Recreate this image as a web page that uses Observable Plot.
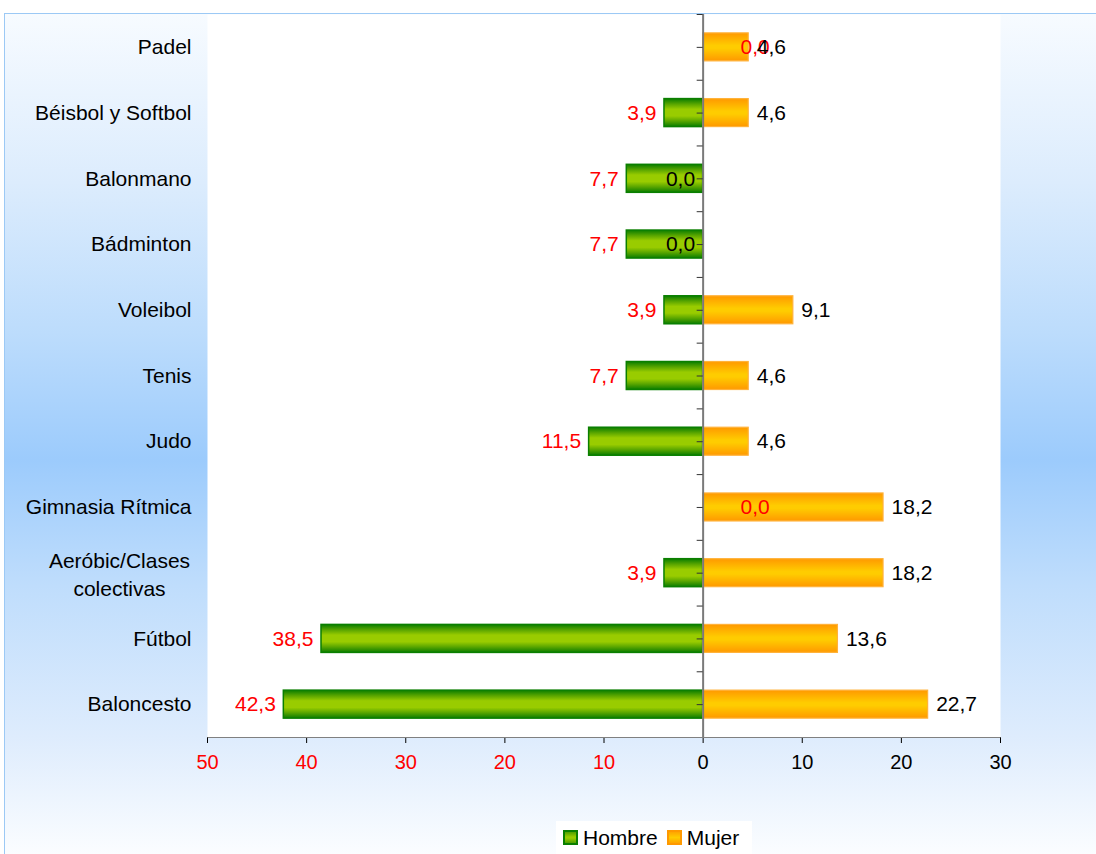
<!DOCTYPE html>
<html>
<head>
<meta charset="utf-8">
<script src="https://cdn.jsdelivr.net/npm/d3@7"></script>
<script src="https://cdn.jsdelivr.net/npm/@observablehq/plot@0.6"></script>
<style>
html, body { margin: 0; padding: 0; background: #fff; }
body { width: 1096px; height: 854px; overflow: hidden; position: relative; font-family: "Liberation Sans", Arial, sans-serif; }
#bg { position: absolute; left: 4px; top: 13px; width: 1092px; height: 841px;
  border-top: 1px solid #9cc9f5; border-left: 1px solid #9cc9f5;
  background: linear-gradient(to bottom, #f7fbff 0%, #dcecfd 20%, #bcdcfc 38%, #9ccbfc 53%, #bfddfc 68%, #deecfd 86%, #fbfdff 100%); }
#chart { position: absolute; left: 0; top: 0; }
#legend { position: absolute; left: 556px; top: 821px; width: 196px; height: 33px; background: #fff;
  display: flex; align-items: center; font-size: 21px; color: #000; box-sizing: border-box; padding-left: 7px; }
.sw { display: inline-block; width: 11px; height: 11px; margin-right: 5px; }
.sw.g { border: 2px solid #0a7f00; background: linear-gradient(to bottom, #4fa000, #99cc00 45%, #99cc00 55%, #4fa000); }
.sw.o { border: 2px solid #ff9900; background: linear-gradient(to bottom, #ffa500, #ffcc00 50%, #ffa500); margin-left: 9px; }
</style>
</head>
<body>
<svg width="0" height="0" style="position:absolute">
  <defs>
    <linearGradient id="gH" x1="0" y1="0" x2="0" y2="1">
      <stop offset="0" stop-color="#0a7d00"/>
      <stop offset="0.2" stop-color="#5aa600"/>
      <stop offset="0.38" stop-color="#99cc00"/>
      <stop offset="0.62" stop-color="#99cc00"/>
      <stop offset="0.8" stop-color="#5aa600"/>
      <stop offset="1" stop-color="#0a7d00"/>
    </linearGradient>
    <linearGradient id="gM" x1="0" y1="0" x2="0" y2="1">
      <stop offset="0" stop-color="#ff9900"/>
      <stop offset="0.45" stop-color="#ffcc00"/>
      <stop offset="0.55" stop-color="#ffcc00"/>
      <stop offset="1" stop-color="#ff9900"/>
    </linearGradient>
  </defs>
</svg>
<div id="bg"></div>
<div id="chart"></div>
<div id="legend"><span class="sw g"></span>Hombre<span class="sw o"></span>Mujer</div>
<script>
const sports = ["Padel", "Béisbol y Softbol", "Balonmano", "Bádminton", "Voleibol", "Tenis", "Judo", "Gimnasia Rítmica", "Aeróbic/Clases\ncolectivas", "Fútbol", "Baloncesto"];
const hombre = [0.0, 3.9, 7.7, 7.7, 3.9, 7.7, 11.5, 0.0, 3.9, 38.5, 42.3];
const mujer = [4.6, 4.6, 0.0, 0.0, 9.1, 4.6, 4.6, 18.2, 18.2, 13.6, 22.7];
const xTicks = [-50, -40, -30, -20, -10, 0, 10, 20, 30];

const fmt = v => v.toFixed(1).replace(".", ",");
const hRows = sports.map((s, i) => ({sport: s, v: hombre[i]}));
const mRows = sports.map((s, i) => ({sport: s, v: mujer[i]}));
const font = "Liberation Sans, Arial, sans-serif";

const plot = Plot.plot({
  width: 1096,
  height: 820,
  marginLeft: 207,
  marginRight: 96,
  marginTop: 14,
  marginBottom: 83,
  style: {background: "transparent", fontFamily: font, fontSize: "21px", color: "#000", overflow: "visible"},
  x: {domain: [-50, 30], ticks: xTicks, tickSize: 6, tickFormat: () => "", line: true, label: null},
  y: {domain: sports, axis: null, paddingInner: 0.574, paddingOuter: 0.287, round: false},
  marks: [
    Plot.frame({fill: "white", stroke: "none"}),
    Plot.barX(hRows.filter(d => d.v > 0), {y: "sport", x1: () => 0, x2: d => -d.v, fill: "url(#gH)", stroke: "#0a7f00", strokeWidth: 1.5}),
    Plot.barX(mRows.filter(d => d.v > 0), {y: "sport", x1: () => 0, x2: d => d.v, fill: "url(#gM)", stroke: "#ffb23a", strokeWidth: 1.2}),
    Plot.ruleX([0], {stroke: "#7a7a7a", strokeWidth: 2}),
    Plot.ruleY(sports, {y: d => d, x1: () => -0.6, x2: () => 0, stroke: "#333"}),
    Plot.ruleY(sports, {y: d => d, x1: () => -0.6, x2: () => 0, stroke: "#333", dy: -32.85}),
    Plot.text(hRows.filter(d => d.v > 0), {x: d => -d.v, y: "sport", text: d => fmt(d.v), textAnchor: "end", dx: -8, fill: "#ff0000", fontSize: 21}),
    Plot.text(hRows.filter(d => d.v === 0), {x: () => 0, y: "sport", text: d => fmt(d.v), textAnchor: "middle", dx: 52, fill: "#ff0000", fontSize: 21}),
    Plot.text(mRows.filter(d => d.v > 0), {x: d => d.v, y: "sport", text: d => fmt(d.v), textAnchor: "start", dx: 8, fill: "#000", fontSize: 21}),
    Plot.text(mRows.filter(d => d.v === 0), {x: () => 0, y: "sport", text: d => fmt(d.v), textAnchor: "end", dx: -8, fill: "#000", fontSize: 21}),
    Plot.text(sports.filter(s => !s.includes("\n")), {y: d => d, text: d => d, frameAnchor: "left", dx: -16, textAnchor: "end", fill: "#000", fontSize: 21}),
    Plot.text(sports.filter(s => s.includes("\n")), {y: d => d, text: d => d, frameAnchor: "left", dx: -88, textAnchor: "middle", lineHeight: 1.33, fill: "#000", fontSize: 21}),
    Plot.text(xTicks.filter(d => d < 0), {x: d => d, text: d => String(Math.abs(d)), frameAnchor: "bottom", dy: 31, fill: "#ff0000", fontSize: 20}),
    Plot.text(xTicks.filter(d => d >= 0), {x: d => d, text: d => String(d), frameAnchor: "bottom", dy: 31, fill: "#000", fontSize: 20})
  ]
});
document.getElementById("chart").appendChild(plot);
</script>
</body>
</html>
